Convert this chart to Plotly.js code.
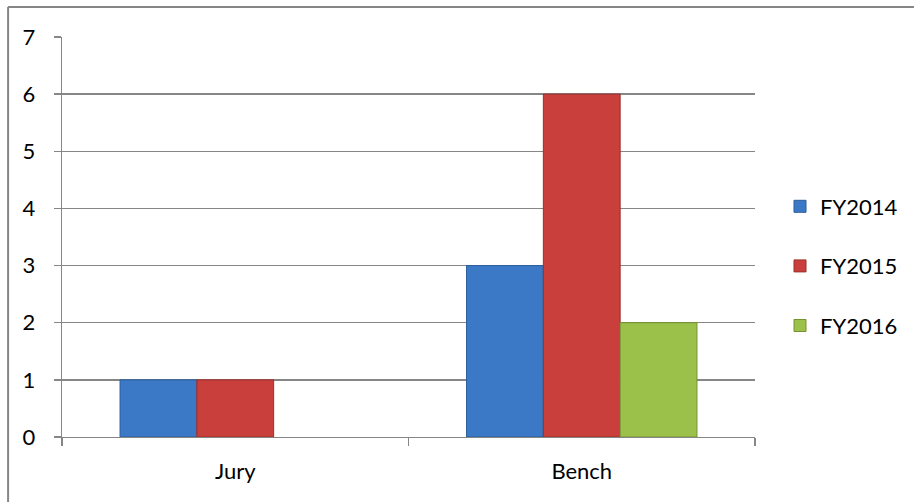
<!DOCTYPE html>
<html>
<head>
<meta charset="utf-8">
<script src="https://cdn.plot.ly/plotly-3.0.1.min.js"></script>
<style>html,body{margin:0;padding:0;background:#fff;}#chart{width:914px;height:502px;}</style>
</head>
<body>
<div id="chart"></div>
<script>
const categories = ["Jury", "Bench"];
const seriesNames = ["FY2014", "FY2015", "FY2016"];
const fy2014 = [1, 3];
const fy2015 = [1, 6];
const fy2016 = [null, 2];
const yTicks = [0, 1, 2, 3, 4, 5, 6, 7];

const colors = ["#3b78c6", "#c83f3b", "#9bc14b"];
const lines = ["#2c5d9c", "#9c2e2b", "#74922f"];
const values = [fy2014, fy2015, fy2016];

const traces = values.map((v, i) => ({
  type: "bar",
  name: seriesNames[i],
  x: categories,
  y: v,
  legendgroup: "g" + i,
  marker: { color: colors[i], line: { color: lines[i], width: 1 } },
  hoverinfo: "skip"
}));

const grid = "#868686";
const layout = {
  width: 914, height: 502,
  margin: { l: 62, r: 158, t: 37, b: 65 },
  paper_bgcolor: "#fff", plot_bgcolor: "#fff",
  font: { family: "Lato, 'Open Sans', sans-serif", size: 22, color: "#000" },
  barmode: "group", bargap: 0.335, bargroupgap: 0,
  showlegend: true,
  legend: {
    x: 1.0346, xanchor: "left", xref: "paper",
    y: 0.4275, yanchor: "middle",
    traceorder: "grouped", tracegroupgap: 28,
    font: { size: 22 }, bgcolor: "rgba(0,0,0,0)"
  },
  xaxis: {
    type: "category",
    showgrid: false, showline: true, linecolor: grid, linewidth: 1.3,
    ticks: "outside", tickson: "boundaries", ticklen: 8, tickcolor: grid, tickwidth: 1.3,
    ticklabelstandoff: 14, fixedrange: true
  },
  yaxis: {
    range: [0, 7], tickvals: yTicks, ticktext: yTicks.map(String),
    showgrid: true, gridcolor: grid, gridwidth: 1.3,
    showline: true, linecolor: grid, linewidth: 1.3,
    zeroline: false,
    ticks: "outside", ticklen: 7, tickcolor: grid, tickwidth: 1.3,
    ticklabelstandoff: 14, fixedrange: true
  },
  shapes: [
    { type: "line", xref: "paper", yref: "paper", x0: -0.0778, x1: -0.0778, y0: 1.075, y1: -0.2, line: { color: "#868686", width: 2 } },
    { type: "line", xref: "paper", yref: "paper", x0: -0.0778, x1: 1.3, y0: 1.075, y1: 1.075, line: { color: "#868686", width: 2 } }
  ]
};

Plotly.newPlot("chart", traces, layout, { staticPlot: true, displayModeBar: false });
</script>
</body>
</html>
